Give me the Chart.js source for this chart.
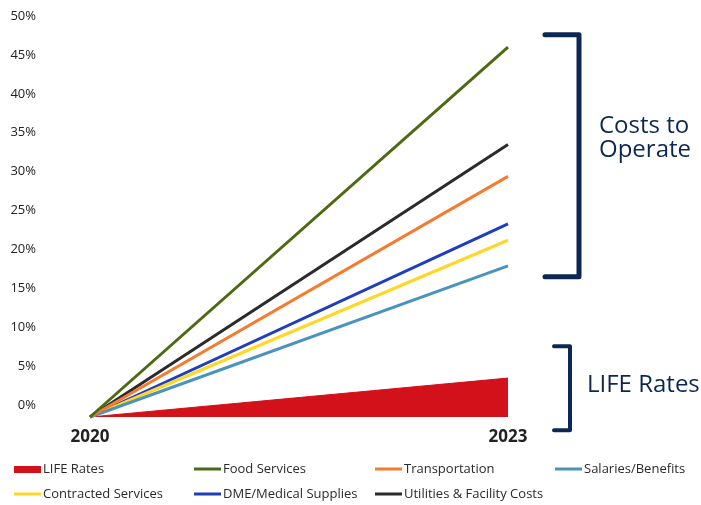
<!DOCTYPE html>
<html>
<head>
<meta charset="utf-8">
<script src="https://cdn.jsdelivr.net/npm/chart.js@4.4.1/dist/chart.umd.min.js"></script>
<style>
  html, body { margin: 0; padding: 0; background: #fff; }
  #wrap { width: 701px; height: 505px; }
</style>
</head>
<body>
<div id="wrap"><canvas id="costChart" width="701" height="505"></canvas></div>
<script>
// データ
const years = ['2020', '2023'];
const yTickValues = [0, 5, 10, 15, 20, 25, 30, 35, 40, 45, 50];
const baseValue = -1.5;

const lifeRates      = [-1.5, 3.5];
const foodServices   = [-1.5, 46.0];
const transportation = [-1.5, 29.4];
const salaries       = [-1.5, 17.9];
const contracted     = [-1.5, 21.2];
const dmeSupplies    = [-1.5, 23.3];
const utilities      = [-1.5, 33.5];

const NAVY = '#0c2753';
const FONT = '"Open Sans", "Noto Sans", sans-serif';

// 凡例の配置 (列, 行)
const legendSlots = [[0, 0], [1, 0], [2, 0], [3, 0], [0, 1], [1, 1], [2, 1]];

function lineSet(label, data, color) {
    return {
        label: label,
        data: data,
        borderColor: color,
        backgroundColor: color,
        borderWidth: 3,
        pointRadius: 0,
        fill: false,
        clip: 6
    };
}

// 右側の括弧と注記
const bracketPlugin = {
    id: 'brackets',
    afterDraw(chart) {
        const ctx = chart.ctx;
        const y = chart.scales.y;
        ctx.save();
        ctx.strokeStyle = NAVY;
        ctx.lineCap = 'round';
        ctx.lineJoin = 'round';

        // Costs to Operate
        ctx.lineWidth = 5;
        const t1 = y.getPixelForValue(47.6), b1 = y.getPixelForValue(16.5);
        ctx.beginPath();
        ctx.moveTo(545, t1); ctx.lineTo(579, t1); ctx.lineTo(579, b1); ctx.lineTo(545, b1);
        ctx.stroke();

        // LIFE Rates
        ctx.lineWidth = 4;
        const t2 = y.getPixelForValue(7.6), b2 = y.getPixelForValue(-3.2);
        ctx.beginPath();
        ctx.moveTo(554, t2); ctx.lineTo(570, t2); ctx.lineTo(570, b2); ctx.lineTo(554, b2);
        ctx.stroke();

        ctx.fillStyle = NAVY;
        ctx.font = '24px ' + FONT;
        ctx.textBaseline = 'middle';
        ctx.textAlign = 'left';
        ctx.fillText('Costs to', 599, 126);
        ctx.fillText('Operate', 599, 150);
        ctx.fillText('LIFE Rates', 587, 385);
        ctx.restore();
    }
};

// 下部の凡例 (列揃え)
const legendPlugin = {
    id: 'gridLegend',
    afterDraw(chart) {
        const ctx = chart.ctx;
        const colX = [14, 194, 375, 555];
        const rowY = [469, 494];
        ctx.save();
        ctx.font = '13px ' + FONT;
        ctx.textBaseline = 'middle';
        ctx.textAlign = 'left';
        chart.data.datasets.forEach((ds, i) => {
            const slot = legendSlots[i];
            const x = colX[slot[0]], yy = rowY[slot[1]];
            ctx.fillStyle = ds.borderColor;
            if (ds.fill) {
                ctx.fillRect(x, yy - 3, 27, 7);
            } else {
                ctx.fillRect(x, yy - 1.5, 27, 3);
            }
            ctx.fillStyle = '#2a2a2a';
            ctx.fillText(ds.label, x + 29, yy);
        });
        ctx.restore();
    }
};

const ctx = document.getElementById('costChart').getContext('2d');
new Chart(ctx, {
    type: 'line',
    data: {
        labels: years,
        datasets: [
            {
                label: 'LIFE Rates',
                data: lifeRates,
                borderColor: '#d3111b',
                backgroundColor: '#d3111b',
                borderWidth: 1,
                pointRadius: 0,
                fill: { value: baseValue },
                order: 10
            },
            lineSet('Food Services', foodServices, '#4b6b12'),
            lineSet('Transportation', transportation, '#f57b2e'),
            lineSet('Salaries/Benefits', salaries, '#4b93bd'),
            lineSet('Contracted Services', contracted, '#ffd727'),
            lineSet('DME/Medical Supplies', dmeSupplies, '#1f3ebd'),
            lineSet('Utilities & Facility Costs', utilities, '#2b2b2b')
        ]
    },
    options: {
        responsive: false,
        animation: false,
        layout: { padding: { top: 16, right: 193, bottom: 58, left: 4 } },
        plugins: {
            legend: { display: false },
            tooltip: { enabled: false }
        },
        scales: {
            x: {
                offset: false,
                grid: { display: false, drawTicks: false },
                border: { display: false },
                ticks: {
                    padding: 10,
                    color: '#222',
                    font: { family: FONT, size: 17, weight: 'bold' },
                    maxRotation: 0
                },
                afterFit(scale) {
                    scale.height = 30;
                    scale.paddingLeft = 0;
                    scale.paddingRight = 0;
                }
            },
            y: {
                min: baseValue,
                max: 50,
                grid: { display: false, drawTicks: false },
                border: { display: false },
                ticks: {
                    padding: 54,
                    color: '#222',
                    font: { family: FONT, size: 13 },
                    callback: v => v + '%'
                },
                afterBuildTicks(scale) {
                    scale.ticks = yTickValues.map(v => ({ value: v }));
                },
                afterFit(scale) {
                    scale.width = 86;
                    scale.paddingTop = 0;
                    scale.paddingBottom = 0;
                }
            }
        }
    },
    plugins: [bracketPlugin, legendPlugin]
});
</script>
</body>
</html>
